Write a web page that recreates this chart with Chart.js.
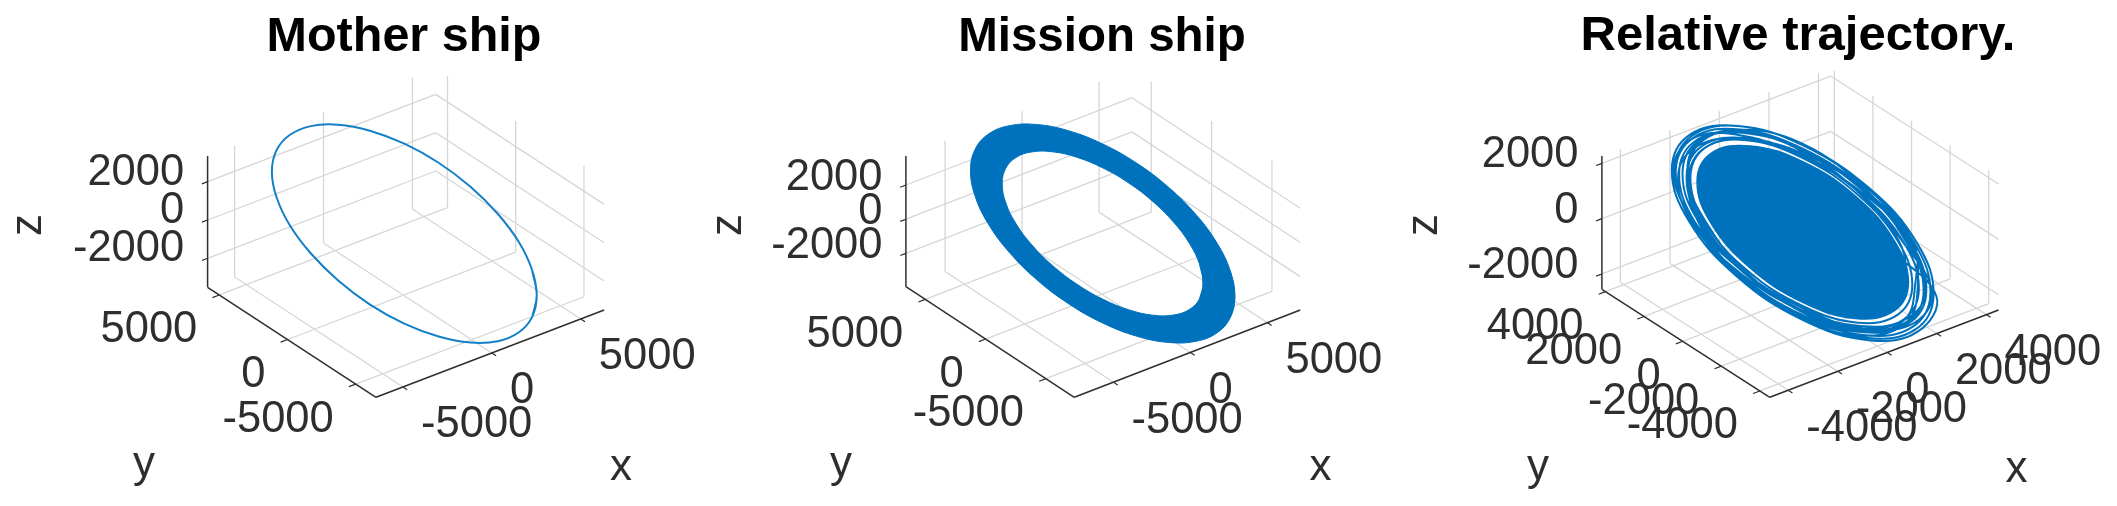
<!DOCTYPE html>
<html>
<head>
<meta charset="utf-8">
<title>Orbits</title>
<script src="https://cdn.jsdelivr.net/npm/chart.js@4"></script>
<style>
  html, body { margin: 0; background: #fff; overflow: hidden; width: 2117px; height: 506px; }
  canvas { position: absolute; top: 0; }
</style>
</head>
<body>
<canvas id="mother" width="808" height="506" style="left:0"></canvas>
<canvas id="mission" width="808" height="506" style="left:698px"></canvas>
<canvas id="relative" width="776" height="506" style="left:1410px"></canvas>
<script>
// tick labels
const shipTicksXY = [-5000, 0, 5000];
const shipTicksZ = [-2000, 0, 2000];
const relativeTicksXY = [-4000, -2000, 0, 2000, 4000];

// mother ship orbit
const motherX = [4920, 3720, 2270, 660, -980, -2550, -3950, -5080, -5850, -6220, -6170, -5690, -4820, -3620, -2170, -560, 1080, 2650, 4050, 5180, 5950, 6320, 6270, 5790, 4920];
const motherY = [-3360, -4590, -5510, -6060, -6190, -5910, -5210, -4170, -2840, -1310, 300, 1890, 3360, 4590, 5510, 6060, 6190, 5910, 5210, 4170, 2840, 1310, -300, -1890, -3360];
const motherZ = [-3720, -3830, -3690, -3330, -2760, -2020, -1170, -260, 650, 1490, 2200, 2750, 3080, 3190, 3050, 2690, 2120, 1380, 530, -380, -1290, -2130, -2840, -3390, -3720];

// mission ship band: outer and inner edge of the drifting orbit
const missionOuterX = [5665, 4308, 2664, 841, -1034, -2835, -4440, -5739, -6640, -7085, -7044, -6520, -5545, -4188, -2544, -721, 1154, 2955, 4560, 5859, 6760, 7205, 7164, 6640, 5665];
const missionOuterY = [-3800, -5158, -6162, -6747, -6873, -6531, -5742, -4563, -3073, -1373, 420, 2184, 3800, 5158, 6162, 6747, 6873, 6531, 5742, 4563, 3073, 1373, -420, -2184, -3800];
const missionOuterZ = [-4291, -4420, -4277, -3870, -3230, -2398, -1429, -392, 642, 1604, 2427, 3058, 3451, 3580, 3437, 3030, 2390, 1558, 589, -448, -1482, -2444, -3267, -3898, -4291];
const missionInnerX = [4308, 3309, 2089, 730, -674, -2028, -3240, -4228, -4922, -5276, -5269, -4899, -4188, -3189, -1969, -610, 794, 2148, 3360, 4348, 5042, 5396, 5389, 5019, 4308];
const missionInnerY = [-2900, -3892, -4617, -5027, -5097, -4819, -4211, -3317, -2197, -927, 405, 1710, 2900, 3892, 4617, 5027, 5097, 4819, 4211, 3317, 2197, 927, -405, -1710, -2900];
const missionInnerZ = [-3462, -3550, -3424, -3093, -2581, -1922, -1159, -346, 461, 1209, 1844, 2328, 2622, 2710, 2584, 2253, 1741, 1082, 319, -494, -1301, -2049, -2684, -3168, -3462];

// relative trajectory: loose loops at the rim
const relativeX = [
  3300,
  3700, 1860, -430, -2560, -3960, -4280, -3430, -1620, 620, 2720, 4090, 4390,
  3540, 1780, -410, -2440, -3770, -4060, -3230, -1530, 590, 2560, 3850, 4120,
  3360, 1710, -390, -2410, -3790, -4150, -3340, -1600, 620, 2730, 4160, 4500,
  3630, 1820, -420, -2510, -3870, -4170, -3320, -1570, 600, 2620, 3950, 4260,
  3430, 1720, -390, -2320, -3560, -3810, -3030, -1430, 560, 2420, 3660, 3970,
  3230, 1650, -370, -2290, -3580, -3900, -3140, -1500, 590, 2570, 3910, 4210,
  3380, 1690, -380, -2280, -3500, -3740, -2960, -1390, 550, 2340, 3510, 3760,
  3050, 1560, -350, -2140, -3360, -3650, -2930, -1390, 560, 2400, 3640, 3940,
  3590, 1750, -370, -2200, -3540, -4060, -3390, -1560, 570, 2370, 3740, 4260,
  3200, 1690, -410, -2550, -3830, -3920, -3000, -1470, 600, 2770, 3990, 4080,
  3410, 1660, -360, -2280, -3710, -4190, -3250, -1460, 560, 2480, 3910, 4350,
  3130, 1660, -390, -2330, -3460, -3610, -3000, -1490, 600, 2530, 3620, 3810,
  2950];
const relativeY = [
  -300,
  -2300, -3700, -4100, -3400, -1800, 260, 2250, 3630, 4020, 3350, 1780, -250,
  -2200, -3530, -3910, -3250, -1720, 250, 2130, 3420, 3790, 3140, 1670, -240,
  -2080, -3380, -3810, -3210, -1730, 250, 2200, 3570, 4020, 3370, 1800, -260,
  -2250, -3630, -4020, -3330, -1770, 250, 2190, 3510, 3890, 3230, 1710, -250,
  -2130, -3400, -3750, -3090, -1630, 230, 2000, 3220, 3560, 2970, 1580, -230,
  -2000, -3250, -3640, -3060, -1640, 240, 2070, 3370, 3770, 3160, 1690, -240,
  -2090, -3350, -3680, -3040, -1600, 230, 1960, 3140, 3480, 2870, 1520, -220,
  -1890, -3070, -3440, -2870, -1540, 220, 1930, 3140, 3520, 2940, 1570, -230,
  -2230, -3460, -3640, -2940, -1620, 250, 2230, 3500, 3640, 2900, 1620, -250,
  -1980, -3350, -3930, -3380, -1750, 240, 1980, 3310, 3890, 3420, 1730, -240,
  -2120, -3270, -3560, -3040, -1690, 250, 2140, 3270, 3520, 3040, 1690, -250,
  -1930, -3270, -3810, -3110, -1580, 220, 1980, 3350, 3850, 3110, 1560, -220,
  -1820];
const relativeZ = [
  -1800,
  -2770, -2800, -2150, -1000, 330, 1500, 2200, 2220, 1590, 470, -840, -1980,
  -2660, -2680, -2060, -970, 300, 1410, 2060, 2080, 1480, 420, -810, -1880,
  -2530, -2580, -2010, -960, 310, 1450, 2140, 2190, 1590, 470, -850, -2030,
  -2720, -2740, -2110, -990, 320, 1460, 2120, 2150, 1530, 440, -820, -1930,
  -2580, -2590, -1980, -930, 270, 1310, 1920, 1940, 1380, 390, -780, -1810,
  -2440, -2490, -1940, -930, 280, 1350, 2000, 2050, 1470, 430, -810, -1910,
  -2540, -2550, -1960, -920, 260, 1280, 1870, 1890, 1340, 360, -760, -1730,
  -2320, -2360, -1840, -880, 240, 1250, 1850, 1890, 1360, 380, -780, -1800,
  -2690, -2630, -1940, -900, 270, 1410, 2170, 2140, 1420, 370, -790, -1930,
  -2420, -2550, -2070, -1000, 310, 1360, 1900, 2010, 1530, 480, -830, -1860,
  -2570, -2500, -1900, -920, 290, 1460, 2070, 1980, 1360, 400, -810, -1970,
  -2370, -2500, -2010, -940, 260, 1230, 1900, 2030, 1510, 420, -770, -1750,
  -2240];
// relative trajectory: the solid middle where the loops merge
const relativeCoreX = [2950, 1500, -320, -2030, -3170, -3430, -2750, -1300, 520, 2230, 3370, 3630, 2950];
const relativeCoreY = [-1817, -2938, -3271, -2728, -1454, 209, 1817, 2938, 3271, 2728, 1454, -209, -1817];
const relativeCoreZ = [-2240, -2270, -1770, -850, 220, 1160, 1720, 1750, 1240, 330, -740, -1680, -2240];

const BLUE = "#0072BD";
const INK = "#2e2e2e";
const GRID = "#d6d6d6";

const panels = {
  mother: {
    canvas: "mother", title: "Mother ship", titleSize: 48.5, titlePad: 9, left: 0, width: 808,
    limX: [-6519, 6316], limY: [-6485, 5858], limZ: [-3513, 3339],
    front: [376, 397.3], right: [604.2, 310], back: [207.6, 287.3], top: 156,
    ticksX: shipTicksXY, ticksY: shipTicksXY, ticksZ: shipTicksZ,
    labelX: [621, 468], labelY: [144, 465], labelZ: [29, 225], zShift: -9,
  },
  mission: {
    canvas: "mission", title: "Mission ship", titleSize: 47.5, titlePad: 9, left: 698, width: 808,
    limX: [-7544, 7134], limY: [-7350, 6604], limZ: [-3951, 3698],
    front: [1074.3, 397.3], right: [1300.3, 310], back: [905.9, 286.7], top: 156,
    ticksX: shipTicksXY, ticksY: shipTicksXY, ticksZ: shipTicksZ,
    labelX: [1320.6, 468], labelY: [841, 465], labelZ: [728.5, 225], zShift: -7,
  },
  relative: {
    canvas: "relative", title: "Relative trajectory.", titleSize: 49, titlePad: 7, left: 1410, width: 776,
    limX: [-4745, 4491], limY: [-4512, 4186], limZ: [-2554, 2265],
    front: [1769.8, 397.3], right: [1998.6, 310], back: [1601.9, 289.3], top: 156,
    ticksX: relativeTicksXY, ticksY: relativeTicksXY, ticksZ: shipTicksZ,
    labelX: [2016.6, 470], labelY: [1538, 468], labelZ: [1424.5, 225], zShift: -8,
  },
};

// 3D box of the picture flattened to the 2D scales of the chart
function project(p, x, y, z) {
  const fx = (x - p.limX[0]) / (p.limX[1] - p.limX[0]);
  const fy = (y - p.limY[0]) / (p.limY[1] - p.limY[0]);
  const fz = (z - p.limZ[0]) / (p.limZ[1] - p.limZ[0]);
  return {
    x: p.front[0] + fx * (p.right[0] - p.front[0]) + fy * (p.back[0] - p.front[0]),
    y: p.front[1] + fx * (p.right[1] - p.front[1]) + fy * (p.back[1] - p.front[1]) + fz * (p.top - p.back[1]),
  };
}

function seg(p, a, b, color, width, order) {
  return {
    data: [project(p, ...a), project(p, ...b)],
    showLine: true, pointRadius: 0, borderColor: color, borderWidth: width, order,
  };
}

function points(p, xs, ys, zs) {
  return xs.map((x, i) => project(p, x, ys[i], zs[i]));
}

// closed loop: run one step past the seam both ways so the spline has no corner there
function wrap(pts) {
  return [pts[pts.length - 2], ...pts, pts[1]];
}

function curve(pts, extra) {
  return Object.assign({
    data: pts,
    showLine: true, pointRadius: 0, borderColor: BLUE, borderWidth: 1.5,
    tension: 0.4, borderJoinStyle: "round", order: 0,
  }, extra);
}

function boxDatasets(p) {
  const [x0, x1] = p.limX, [y0, y1] = p.limY, [z0, z1] = p.limZ;
  const out = [];
  p.ticksX.forEach((t) => {
    out.push(seg(p, [t, y1, z0], [t, y1, z1], GRID, 1.3, 3));
    out.push(seg(p, [t, y0, z0], [t, y1, z0], GRID, 1.3, 3));
    out.push(seg(p, [t, y0, z0], [t, y0 - (y1 - y0) * 0.025, z0], INK, 1.2, 1));
  });
  p.ticksY.forEach((t) => {
    out.push(seg(p, [x1, t, z0], [x1, t, z1], GRID, 1.3, 3));
    out.push(seg(p, [x0, t, z0], [x1, t, z0], GRID, 1.3, 3));
    out.push(seg(p, [x0, t, z0], [x0 - (x1 - x0) * 0.03, t, z0], INK, 1.2, 1));
  });
  p.ticksZ.forEach((t) => {
    out.push(seg(p, [x0, y1, t], [x1, y1, t], GRID, 1.3, 3));
    out.push(seg(p, [x1, y0, t], [x1, y1, t], GRID, 1.3, 3));
    out.push(seg(p, [x0, y1, t], [x0 - (x1 - x0) * 0.025, y1, t], INK, 1.2, 1));
  });
  out.push(seg(p, [x0, y1, z0], [x0, y1, z1], INK, 1.5, 1));
  out.push(seg(p, [x0, y0, z0], [x0, y1, z0], INK, 1.5, 1));
  out.push(seg(p, [x0, y0, z0], [x1, y0, z0], INK, 1.5, 1));
  return out;
}

// band polygon: outer edge one way, inner edge back, doubled seam points keep the seam straight
function bandData(p) {
  const outer = wrap(points(p, missionOuterX, missionOuterY, missionOuterZ));
  const inner = wrap(points(p, missionInnerX, missionInnerY, missionInnerZ).reverse());
  return [...outer, outer[outer.length - 1], inner[0], ...inner, inner[inner.length - 1]];
}

const boxText = {
  id: "boxText",
  afterDraw(chart) {
    const p = chart.options.plugins.boxText.panel;
    const { ctx } = chart;
    const px = (v) => chart.scales.x.getPixelForValue(v);
    const py = (v) => chart.scales.y.getPixelForValue(v);
    const [x0] = p.limX, [y0, y1] = p.limY, [z0] = p.limZ;
    ctx.save();
    ctx.fillStyle = INK;
    ctx.font = "43.5px 'Liberation Sans'";
    ctx.textBaseline = "middle";
    ctx.textAlign = "right";
    p.ticksZ.forEach((t) => {
      const a = project(p, x0, y1, t);
      ctx.fillText(String(t), px(a.x - 23.4), py(a.y + p.zShift));
    });
    p.ticksY.forEach((t) => {
      const a = project(p, x0, t, z0);
      ctx.fillText(String(t), px(a.x - 22), py(a.y + 35.5));
    });
    ctx.textAlign = "left";
    p.ticksX.forEach((t) => {
      const a = project(p, t, y0, z0);
      ctx.fillText(String(t), px(a.x + 18), py(a.y + 38.5));
    });
    // axis names
    ctx.font = "44px 'Liberation Sans'";
    ctx.textAlign = "center";
    ctx.fillText("x", px(p.labelX[0]), py(p.labelX[1]));
    ctx.fillText("y", px(p.labelY[0]), py(p.labelY[1]));
    ctx.translate(px(p.labelZ[0]), py(p.labelZ[1]));
    ctx.rotate(-Math.PI / 2);
    ctx.fillText("z", 0, 0);
    ctx.restore();
  },
};

function drawPanel(p, orbits) {
  new Chart(document.getElementById(p.canvas), {
    type: "scatter",
    data: { datasets: [...orbits, ...boxDatasets(p)] },
    options: {
      responsive: false,
      animation: false,
      events: [],
      scales: {
        x: { display: false, min: p.left, max: p.left + p.width },
        y: { display: false, reverse: true, min: p.titleSize * 1.2 + p.titlePad + 1, max: 506 },
      },
      plugins: {
        legend: { display: false },
        tooltip: { enabled: false },
        title: {
          display: true,
          text: p.title,
          color: "#000",
          font: { family: "'Liberation Sans'", size: p.titleSize, weight: "bold", lineHeight: 1.2 },
          padding: { top: p.titlePad, bottom: 1 },
        },
        boxText: { panel: p },
      },
    },
    plugins: [boxText],
  });
}

drawPanel(panels.mother, [
  curve(wrap(points(panels.mother, motherX, motherY, motherZ)), { borderColor: "#1480C8", borderWidth: 2 }),
]);

drawPanel(panels.mission, [
  curve(bandData(panels.mission), { borderWidth: 1, backgroundColor: BLUE, fill: "shape" }),
]);

drawPanel(panels.relative, [
  curve(points(panels.relative, relativeX, relativeY, relativeZ), { borderWidth: 2 }),
  curve(wrap(points(panels.relative, relativeCoreX, relativeCoreY, relativeCoreZ)), { backgroundColor: BLUE, fill: "shape" }),
]);
</script>
</body>
</html>
